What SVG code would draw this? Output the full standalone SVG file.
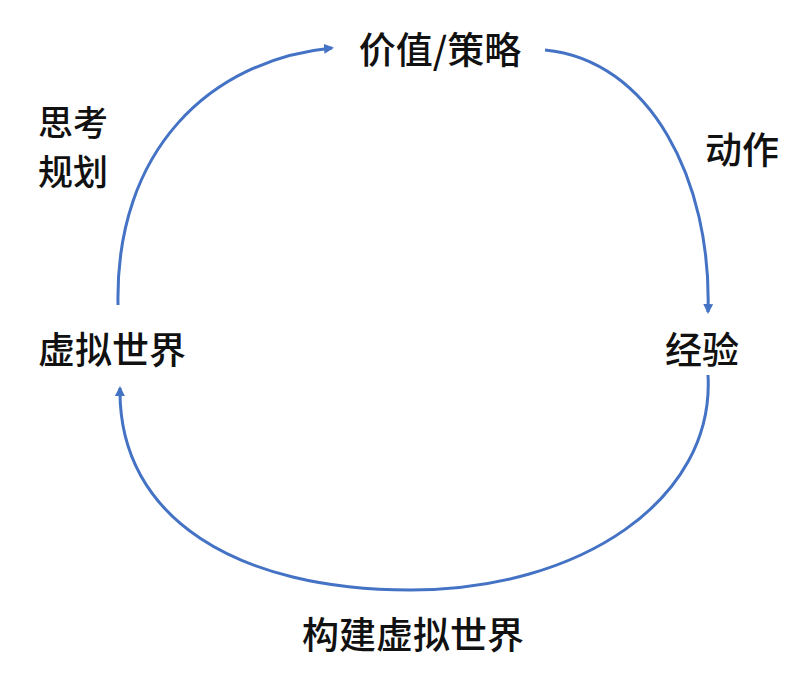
<svg xmlns="http://www.w3.org/2000/svg" width="800" height="686" viewBox="0 0 800 686">
<style>
text{font-family:"Noto Sans CJK SC","Noto Sans",sans-serif;font-size:37px;font-weight:500;fill:#111}
.s{font-size:35px}
.c{fill:none;stroke:#4472C4;stroke-width:3;marker-end:url(#a)}
</style>
<defs><marker id="a" markerWidth="10" markerHeight="10" refX="8" refY="5" orient="auto" markerUnits="userSpaceOnUse"><path d="M0,0L10,5L0,10Z" fill="#4472C4"/></marker></defs>
<rect width="800" height="686" fill="#fff"/>
<g id="connectors">
<path class="c" d="M118,305 C115,150 210,60 332,48"/>
<path class="c" d="M545,50 C650,60 712,180 708,312"/>
<path class="c" d="M708,375 C715,500 580,590 410,590 C240,590 118,520 120,388"/>
</g>
<g id="n1"><text x="440" y="64" text-anchor="middle">价值/策略</text></g>
<g id="n2"><text class="s" x="38" y="136">思考</text><text class="s" x="38" y="185">规划</text></g>
<g id="n3"><text x="705" y="164">动作</text></g>
<g id="n4"><text x="665" y="364">经验</text></g>
<g id="n5"><text x="38" y="364">虚拟世界</text></g>
<g id="n6"><text x="413" y="649" text-anchor="middle">构建虚拟世界</text></g>
</svg>
